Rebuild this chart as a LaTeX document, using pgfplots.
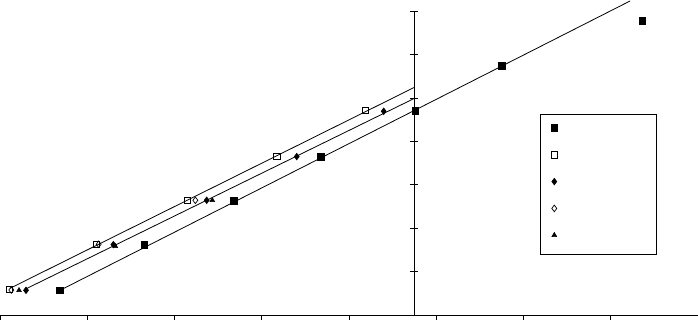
\documentclass[border=0pt]{standalone}
\usepackage{pgfplots}
\pgfplotsset{compat=1.18}
\begin{document}
\begin{tikzpicture}
\useasboundingbox (0pt,-4.7pt) rectangle (698pt,315.3pt);
\begin{axis}[
  at={(0pt,0pt)}, anchor=south west,
  scale only axis, width=698pt, height=304.3pt,
  xmin=-4.744, xmax=3.256, ymin=0, ymax=7,
  clip=false,
  axis x line=bottom, axis y line=middle,
  axis line style={-, line width=0.8pt, black},
  xtick={-4.744,-3.744,-2.744,-1.744,-0.744,0.256,1.256,2.256,3.256},
  ytick={0,1,2,3,4,5,6,7},
  xticklabels={}, yticklabels={},
  xtick align=outside, ytick align=center,
  major tick length=8pt,
  tick style={line width=0.8pt, black},
  legend style={at={(axis cs:1.444,4.631)}, anchor=north west,
    draw=black, line width=0.8pt, fill=white,
    inner xsep=0pt, inner ysep=0.2pt,
    cells={anchor=base west},
    nodes={inner sep=0pt, text depth=, draw=none},
    row sep=0pt, column sep=0pt},
  legend image code/.code={\path[draw=none,fill=none] (-14pt,-13.4pt) rectangle (14pt,13.4pt);
    \draw[#1] plot coordinates {(0pt,0pt)};},
]
% trend lines
\addplot[black, line width=0.8pt, forget plot] coordinates {(-4.056,0.575) (2.477,7.230)};
\addplot[black, line width=0.8pt, forget plot] coordinates {(-4.629,0.621) (0,5.238)};
\addplot[black, line width=0.8pt, forget plot] coordinates {(-4.457,0.598) (0,4.985)};
% series
\addplot[only marks, black, mark=square*, mark size=3.4pt, mark options={line width=0.6pt}] coordinates {
(-4.056,0.575) (-3.090,1.617) (-2.062,2.629) (-1.065,3.651) (0.016,4.700) (1.010,5.735) (2.618,6.770)};
\addlegendentry{\hspace*{88pt}}
\addplot[only marks, black, mark=square, mark size=3.2pt, mark options={line width=0.8pt}] coordinates {
(-4.637,0.591) (-3.640,1.626) (-2.593,2.646) (-1.569,3.651) (-0.557,4.709)};
\addlegendentry{\hspace*{88pt}}
\addplot[only marks, black, mark=diamond*, mark size=3.3pt, mark options={line width=0.6pt}] coordinates {
(-4.446,0.575) (-3.445,1.626) (-2.375,2.646) (-1.343,3.651) (-0.346,4.693)};
\addlegendentry{\hspace*{88pt}}
\addplot[only marks, black, mark=diamond, mark size=3.3pt, mark options={line width=0.7pt}] coordinates {
(-4.614,0.582) (-3.613,1.634) (-2.505,2.646)};
\addlegendentry{\hspace*{88pt}}
\addplot[only marks, black, mark=triangle*, mark size=2.8pt, mark options={line width=0.5pt}] coordinates {
(-4.526,0.575) (-3.422,1.588) (-2.311,2.646)};
\addlegendentry{\hspace*{88pt}\rule[-19pt]{0pt}{0pt}}
\end{axis}
\end{tikzpicture}
\end{document}
